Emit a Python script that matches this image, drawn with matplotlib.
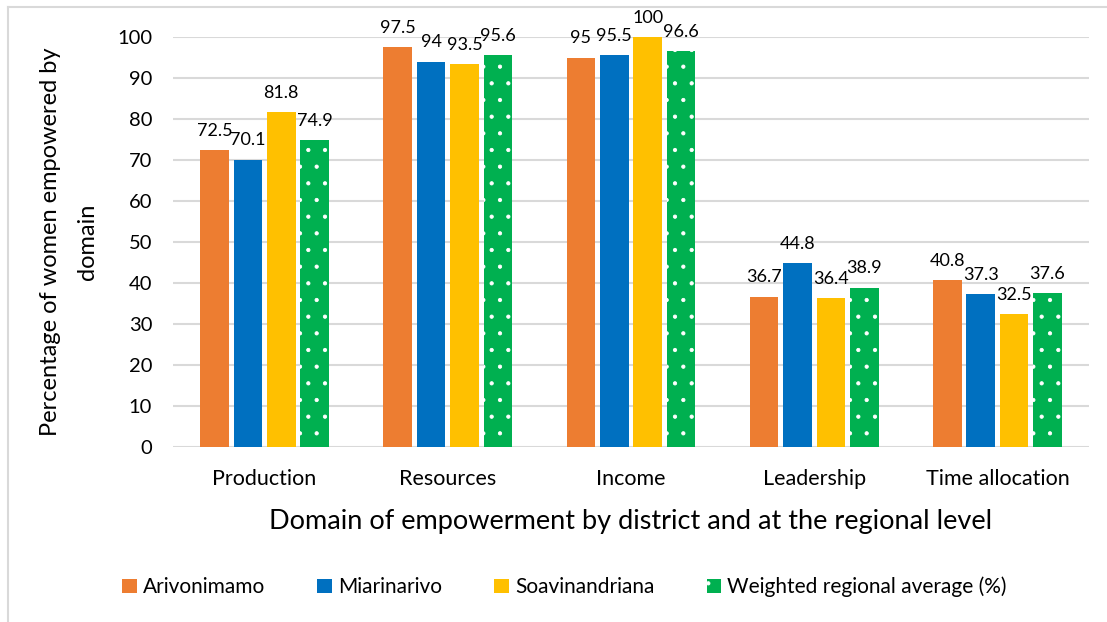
import numpy as np
import matplotlib.pyplot as plt
from matplotlib.lines import Line2D

plt.rcParams['font.family'] = ['Lato', 'DejaVu Sans']
plt.rcParams['hatch.linewidth'] = 0.6

categories = ["Production", "Resources", "Income", "Leadership", "Time allocation"]
series_names = ["Arivonimamo", "Miarinarivo", "Soavinandriana", "Weighted regional average (%)"]
arivonimamo = [72.5, 97.5, 95, 36.7, 40.8]
miarinarivo = [70.1, 94, 95.5, 44.8, 37.3]
soavinandriana = [81.8, 93.5, 100, 36.4, 32.5]
weighted_avg = [74.9, 95.6, 96.6, 38.9, 37.6]
colors = ["#ED7D31", "#0070C0", "#FFC000", "#00B050"]

fig = plt.figure(figsize=(11.07, 6.22), dpi=100)
ax = fig.add_axes([173 / 1107, 1 - 447 / 622, (1089 - 173) / 1107, 410 / 622])

x = np.arange(len(categories))
step = 0.182
width = 0.156
all_series = [arivonimamo, miarinarivo, soavinandriana, weighted_avg]
for i, (vals, name, col) in enumerate(zip(all_series, series_names, colors)):
    pos = x + (i - 1.5) * step
    if i == 3:
        # dotted fill for the regional average
        bars = ax.bar(pos, vals, width, color=col, label=name, hatch='.',
                      edgecolor='white', linewidth=0, zorder=3)
    else:
        bars = ax.bar(pos, vals, width, color=col, label=name,
                      linewidth=0, zorder=3)
    for b, v in zip(bars, vals):
        ax.annotate(f"{v:g}", (b.get_x() + b.get_width() / 2, v),
                    xytext=(0, 8), textcoords='offset points',
                    ha='center', va='bottom', fontsize=13)

ax.set_xlim(-0.5, len(categories) - 0.5)
ax.set_ylim(0, 100)
ax.set_yticks(range(0, 101, 10))
ax.set_xticks(x)
ax.set_xticklabels(categories, fontsize=15.5)
ax.tick_params(axis='y', labelsize=14.5, length=0, pad=15)
ax.tick_params(axis='x', length=0, pad=16)
ax.grid(axis='y', color='#D9D9D9', linewidth=1.5, zorder=0)
for s in ax.spines.values():
    s.set_visible(False)

ax.set_xlabel("Domain of empowerment by district and at the regional level", fontsize=19.5, labelpad=14)
ax.set_ylabel("Percentage of women empowered by\ndomain", fontsize=17, labelpad=14, linespacing=1.9)

fig.legend(loc='center', bbox_to_anchor=(0.51, 1 - 587 / 622), ncol=4, frameon=False,
           fontsize=15, handlelength=0.7, handleheight=0.7, handletextpad=0.3,
           columnspacing=2.5)

# light outline of the chart area (left and top edges)
fig.add_artist(Line2D([8 / 1107, 8 / 1107], [0, 1 - 7 / 622], transform=fig.transFigure,
                      color='#D9D9D9', linewidth=1.5))
fig.add_artist(Line2D([8 / 1107, 1], [1 - 7 / 622, 1 - 7 / 622], transform=fig.transFigure,
                      color='#D9D9D9', linewidth=1.5))

fig.savefig("out.png", dpi=100)
